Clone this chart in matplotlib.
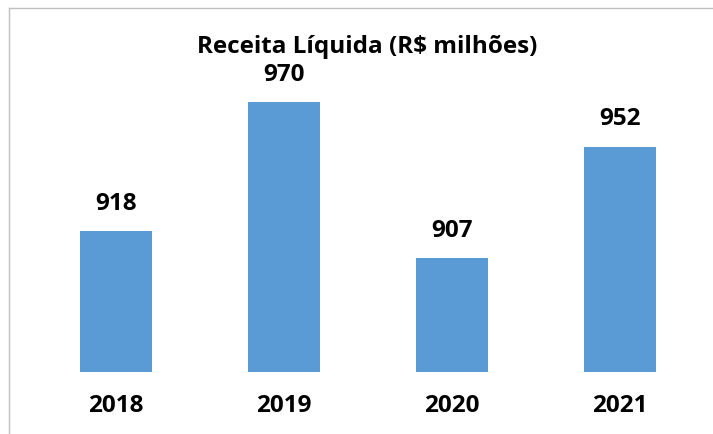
import matplotlib
matplotlib.use("Agg")
import matplotlib.pyplot as plt
from matplotlib.lines import Line2D

years = ["2018", "2019", "2020", "2021"]
values = [918, 970, 907, 952]
title = "Receita Líquida (R$ milhões)"

plt.rcParams['font.family'] = ['Open Sans', 'DejaVu Sans']

W, H = 713, 434
fig = plt.figure(figsize=(W/100, H/100), dpi=100)
ax = fig.add_axes([32/W, (H-372)/H, (704-32)/W, (372-60)/H])

x = range(len(years))
ax.bar(x, values, width=0.43, color="#5B9BD5")
ax.set_xlim(-0.5, 3.5)
ax.set_ylim(861, 987)
for xi, v in zip(x, values):
    ax.annotate(f"{v}", (xi, v), xytext=(0, 11), textcoords="offset points",
                ha="center", va="bottom", fontsize=17.5, fontweight="bold", color="#000000")
ax.set_xticks(list(x))
ax.set_xticklabels(years, fontsize=17.5, fontweight="bold")
ax.tick_params(axis="x", length=0, pad=16)
ax.set_yticks([])
for s in ax.spines.values():
    s.set_visible(False)

fig.text(367/W, 1-47/H, title, ha="center", va="center", fontsize=17.5, fontweight="bold")

fig.add_artist(Line2D([9/W, 1], [1-7.5/H, 1-7.5/H], color="#bfbfbf", lw=1))
fig.add_artist(Line2D([9/W, 9/W], [0, 1-7.5/H], color="#bfbfbf", lw=1))

fig.savefig("out.png", dpi=100)
